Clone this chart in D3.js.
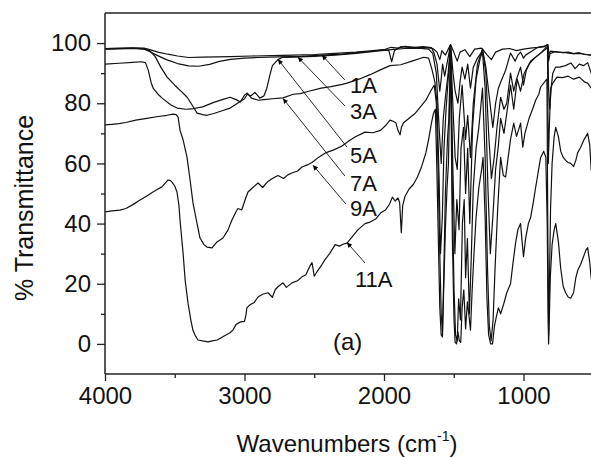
<!DOCTYPE html>
<html><head><meta charset="utf-8">
<script src="https://cdn.jsdelivr.net/npm/d3@7"></script>
<style>body{margin:0;background:#fff}svg{display:block}</style>
</head><body><svg id="c" width="591" height="457"></svg>
<script>
// ---------- data ----------
const seriesNames = ["1A","3A","5A","7A","9A","11A"];
const s1A = [[4000,98.2],[3900,98.3],[3800,98.4],[3720,98.3],[3680,97.8],[3620,97.0],[3550,96.3],[3480,95.7],[3400,95.2],[3300,95.3],[3200,95.4],[3100,95.5],[2950,95.7],[2800,95.8],[2650,96.0],[2500,96.2],[2350,96.6],[2200,97.0],[2100,97.4],[2000,97.8],[1950,98.6],[1900,98.3],[1850,98.9],[1780,98.6],[1700,98.5],[1650,98.2],[1620,97.0],[1600,94.5],[1585,97.5],[1560,96.0],[1523,99.5],[1500,97.0],[1475,94.0],[1455,97.0],[1420,97.8],[1385,95.5],[1350,98.0],[1300,98.3],[1260,96.0],[1230,94.5],[1200,97.0],[1150,98.0],[1100,98.2],[1050,97.5],[1000,98.0],[950,98.3],[900,98.6],[850,99.0],[825,99.5],[818,96.5],[805,97.3],[760,97.0],[700,96.8],[650,96.5],[600,96.6],[550,96.2],[500,96.0]];
const s3A = [[4000,98.0],[3900,98.1],[3800,98.2],[3720,98.0],[3680,97.2],[3630,96.0],[3560,94.5],[3480,93.2],[3400,92.4],[3330,92.3],[3250,92.9],[3180,93.9],[3100,94.6],[3000,95.0],[2900,95.2],[2750,95.4],[2600,95.6],[2450,96.0],[2300,96.3],[2200,96.8],[2100,97.2],[2000,97.8],[1965,97.5],[1945,93.8],[1925,97.5],[1880,98.8],[1800,98.5],[1720,98.8],[1660,98.5],[1640,96.5],[1620,93],[1600,84],[1590,88],[1580,93],[1565,89],[1545,94],[1523,99.5],[1505,90],[1490,84],[1470,80],[1455,87],[1440,92],[1420,88],[1400,93],[1380,85],[1360,92],[1330,95],[1300,97],[1294,98],[1270,92],[1250,84],[1220,72],[1200,80],[1180,85],[1164,87],[1128,91],[1093,96.7],[1060,94],[1040,96],[1021,97],[1000,95],[985,96],[950,97],[900,98.5],[850,98.8],[828,99.5],[820,94],[810,96.5],[770,97.2],[720,96.8],[680,97],[640,96.5],[600,96.8],[560,96.2],[520,96],[500,95.5]];
const s5A = [[4000,98.0],[3900,98.2],[3800,98.3],[3720,98.1],[3680,97.5],[3640,95.5],[3600,92.0],[3555,88.7],[3500,86.0],[3450,83.8],[3411,82.0],[3370,79.0],[3340,76.7],[3300,76.2],[3268,76.0],[3220,76.6],[3160,77.5],[3103,78.4],[3050,80.0],[3000,81.5],[2980,83.0],[2955,82.4],[2925,83.6],[2890,81.7],[2860,82.5],[2840,85],[2820,89],[2800,92.5],[2780,93.5],[2760,94.5],[2730,95.2],[2650,95.3],[2500,95.6],[2350,96.0],[2200,96.6],[2050,97.3],[1950,97.8],[1850,98.2],[1750,98.3],[1680,98.0],[1650,96.5],[1625,90],[1605,72],[1590,60],[1575,75],[1560,82],[1540,90],[1523,99],[1505,78],[1490,62],[1475,58],[1460,75],[1440,86],[1415,68],[1400,76],[1380,62],[1360,80],[1330,93],[1294,98],[1270,90],[1250,70],[1230,55],[1210,62],[1190,72],[1164,82],[1140,78],[1120,80],[1093,90],[1070,84],[1050,88],[1021,92],[1000,86],[980,91],[950,94],[910,95.5],[870,97],[840,98.5],[826,99],[820,85],[812,78],[800,86],[790,90],[770,92],[740,92],[700,92.5],[660,93.4],[630,91.5],[600,93],[570,92.5],[540,93.5],[515,90],[500,89]];
const s7A = [[4000,93.0],[3900,93.3],[3800,93.6],[3740,93.8],[3710,93.5],[3690,91.0],[3670,87.0],[3655,85.0],[3620,83.0],[3590,81.7],[3530,79.5],[3483,78.4],[3420,78.0],[3380,78.1],[3300,78.8],[3220,80.3],[3160,81.2],[3103,82.0],[3060,81.2],[3030,80.4],[3000,82.7],[2980,83.4],[2950,81.7],[2900,81.0],[2860,81.2],[2800,81.5],[2724,81.8],[2650,83.0],[2600,83.2],[2540,84.0],[2450,85.0],[2380,85.5],[2300,86.3],[2265,86.7],[2180,88.0],[2100,89.5],[2030,91.0],[1957,92.5],[1880,92.8],[1800,94.0],[1715,95.3],[1680,95],[1655,91],[1635,87],[1620,80],[1605,55],[1595,30],[1582,42],[1570,65],[1555,78],[1540,88],[1523,99],[1508,62],[1492,30],[1478,48],[1462,38],[1448,65],[1430,72],[1415,50],[1400,65],[1385,40],[1365,72],[1340,88],[1310,95],[1294,97],[1275,85],[1255,52],[1238,30],[1220,42],[1200,58],[1180,66],[1164,75],[1140,70],[1110,80],[1093,86],[1070,78],[1045,88],[1021,84],[995,90],[960,93],[920,95],[880,96.5],[840,98],[828,98.5],[822,60],[815,72],[805,85],[790,86.7],[760,88.7],[720,88.5],[680,89],[640,88],[600,88.7],[560,87],[540,86.7],[515,85],[500,84]];
const s9A = [[4000,72.8],[3950,73.0],[3900,73.2],[3850,73.6],[3780,74.4],[3700,75.0],[3620,75.6],[3556,76.0],[3512,76.4],[3490,76.2],[3476,75.4],[3462,71.0],[3440,67.8],[3412,62.0],[3390,54.5],[3369,46.8],[3340,40.0],[3319,35.2],[3290,33.0],[3269,32.2],[3233,31.9],[3197,33.9],[3154,35.2],[3118,37.9],[3090,41.2],[3060,44.0],[3047,45.0],[3020,44.5],[2995,48.0],[2975,50.5],[2940,52.0],[2903,53.5],[2870,52.0],[2832,54.0],[2800,55.0],[2760,56.0],[2720,55.0],[2690,56.2],[2660,56.8],[2620,57.5],[2588,58.8],[2550,59.5],[2516,60.3],[2470,62.0],[2420,63.5],[2360,64.5],[2301,65.8],[2250,67.5],[2208,68.8],[2136,70.4],[2079,70.2],[2025,71.0],[1990,72.5],[1957,74.4],[1935,74.0],[1915,73.5],[1900,71.0],[1885,69.5],[1875,72.0],[1860,73.5],[1820,75.0],[1780,76.5],[1740,78.7],[1700,81.0],[1660,84.5],[1640,86.0],[1625,80],[1612,58],[1600,30],[1590,10],[1581,4],[1572,22],[1560,50],[1545,68],[1535,75],[1523,98],[1510,50],[1498,18],[1487,3],[1475,1],[1465,15],[1452,8],[1438,40],[1425,48],[1415,22],[1402,35],[1388,10],[1375,28],[1360,52],[1340,65],[1320,72],[1294,85],[1275,62],[1258,25],[1245,6],[1232,1],[1218,8],[1204,25],[1185,45],[1164,62],[1145,56],[1128,55.5],[1110,62],[1093,68],[1070,73.4],[1050,69],[1030,72],[1021,73.4],[1005,65.4],[990,70],[960,75],[935,78],[913,81],[890,83],[877,85.4],[850,87],[832,88],[826,40],[820,3],[814,20],[806,45],[795,60],[780,69],[769,72],[750,69],[733,64],[715,62],[698,61],[680,60.3],[662,60],[641,59],[625,61],[612,63.5],[590,65.4],[565,68],[540,70],[525,66],[515,58],[500,55]];
const s11A = [[4000,43.9],[3950,44.2],[3893,44.5],[3850,45.0],[3800,46.3],[3749,47.8],[3700,49.2],[3656,50.5],[3620,51.5],[3592,52.2],[3565,53.6],[3548,54.5],[3530,54.3],[3520,53.8],[3500,52.5],[3484,50.5],[3470,46],[3462,41],[3450,35],[3440,30],[3425,21],[3405,13.6],[3385,8],[3370,4.6],[3350,2.5],[3333,1.3],[3300,1.0],[3262,0.7],[3230,1.0],[3197,1.3],[3170,2.0],[3140,2.8],[3104,3.7],[3083,4.6],[3060,6.5],[3030,7.3],[3000,7.5],[2990,9.5],[2983,12],[2960,13],[2930,13.8],[2903,15.6],[2870,16.5],[2832,17],[2800,15.5],[2780,18],[2760,19],[2724,20.3],[2700,18.8],[2660,20.3],[2620,21],[2588,22.3],[2560,23],[2530,26],[2516,27],[2500,22.5],[2480,24],[2450,26],[2423,28],[2390,30],[2350,33],[2320,32.5],[2290,33.2],[2265,33.5],[2230,35.5],[2186,38],[2136,40],[2100,40.5],[2060,41.5],[2025,43.5],[1990,44.5],[1960,46.5],[1940,48.8],[1920,47.5],[1900,48.5],[1888,47],[1876,37],[1866,46],[1850,49],[1820,51.5],[1790,53],[1760,55.5],[1730,59],[1700,63.5],[1680,68],[1660,73.4],[1645,76.7],[1632,78],[1622,60],[1612,38],[1600,12],[1590,3],[1581,2.3],[1572,18],[1560,38],[1548,52],[1538,60],[1523,97],[1510,35],[1498,8],[1490,0.5],[1480,0],[1470,4],[1460,1],[1450,0.5],[1440,12],[1428,18],[1415,5],[1402,14],[1390,9],[1380,4.6],[1368,18],[1355,30],[1340,42],[1320,52],[1300,58],[1290,62],[1275,42],[1262,15],[1250,3],[1236,0],[1222,0],[1208,6],[1195,9],[1180,12],[1164,10],[1140,13.6],[1120,17],[1093,20],[1075,27],[1057,33.5],[1040,38],[1021,40],[1010,34],[1000,29],[985,35],[965,40],[949,42],[930,47],[913,52],[895,57],[877,62],[855,64],[840,62],[830,40],[824,10],[820,0],[815,8],[808,22],[795,33],[780,38],[769,40],[750,34],[733,25],[715,19],[698,17],[680,15.6],[662,15.2],[641,17],[625,22],[610,24.6],[590,26.5],[570,29],[554,31],[540,32],[525,27],[515,22],[500,19]];
const seriesData = [s1A, s3A, s5A, s7A, s9A, s11A];

const xTicks = [4000, 3000, 2000, 1000];
const xMinorTicks = [3500, 2500, 1500];
const yTicks = [0, 20, 40, 60, 80, 100];
const yMinorTicks = [10, 30, 50, 70, 90];

// annotations (data units): label anchor, leader start, leader end
const labelAt    = [[2244,83.4],[2244,74.8],[2244,60.1],[2244,50.8],[2244,42.6],[2208,18.9]];
const leaderFrom = [[2280,87.7],[2280,79.1],[2265,65.4],[2280,55.8],[2273,46.5],[2136,26.9]];
const leaderTo   = [[2445,96.0],[2617,95.3],[2760,94.6],[2724,81.6],[2509,59.4],[2265,33.7]];
const panelLabel = "(a)";
const panelAt = [2366, -2];
const xTitle = "Wavenumbers (cm";
const xTitleSup = "-1";
const yTitle = "% Transmittance";

// ---------- chart ----------
const font = "'Liberation Sans', Arial, sans-serif";
const svg = d3.select("#c");
const x = d3.scaleLinear().domain([4000, 500]).range([105, 593.25]);
const y = d3.scaleLinear().domain([-10, 110]).range([374, 13]);

const defs = svg.append("defs");
defs.append("clipPath").attr("id","clip")
  .append("rect").attr("x",105).attr("y",13).attr("width",486).attr("height",361);
defs.append("marker").attr("id","arr").attr("viewBox","0 0 10 10")
  .attr("refX",10).attr("refY",5).attr("markerWidth",6).attr("markerHeight",5)
  .attr("markerUnits","userSpaceOnUse").attr("orient","auto")
  .append("path").attr("d","M0,0L10,5L0,10z").attr("fill","#000");

const line = d3.line().x(d => x(d[0])).y(d => y(d[1]));
svg.append("g").attr("clip-path","url(#clip)")
  .selectAll("path").data(seriesData).join("path")
  .attr("d", line).attr("fill","none").attr("stroke","#111")
  .attr("stroke-width",1.2).attr("stroke-linejoin","round");

// axes
const axCol = "#222";
const gx = svg.append("g").attr("transform","translate(0,374)")
  .call(d3.axisBottom(x).tickValues(xTicks).tickSize(7).tickPadding(6).tickFormat(d3.format("d")));
const gxm = svg.append("g").attr("transform","translate(0,374)")
  .call(d3.axisBottom(x).tickValues(xMinorTicks).tickSize(4).tickFormat(""));
const gy = svg.append("g").attr("transform","translate(105,0)")
  .call(d3.axisLeft(y).tickValues(yTicks).tickSize(8).tickPadding(6).tickFormat(d3.format("d")));
const gym = svg.append("g").attr("transform","translate(105,0)")
  .call(d3.axisLeft(y).tickValues(yMinorTicks).tickSize(4).tickFormat(""));
[gx,gxm,gy,gym].forEach(g => {
  g.select(".domain").attr("stroke",axCol).attr("stroke-width",1.5);
  g.selectAll(".tick line").attr("stroke",axCol).attr("stroke-width",1.3);
  g.selectAll("text").attr("font-family",font).attr("font-size",24).attr("fill","#111");
});
gxm.select(".domain").remove();
gym.select(".domain").remove();
gx.select(".domain").attr("d","M105,0H591");
gy.select(".domain").attr("d","M0,374V13");
svg.append("line").attr("x1",105).attr("x2",591).attr("y1",13).attr("y2",13)
  .attr("stroke",axCol).attr("stroke-width",1.5);

// leaders
svg.append("g").selectAll("line").data(leaderFrom).join("line")
  .attr("x1",(d)=>x(d[0])).attr("y1",(d)=>y(d[1]))
  .attr("x2",(d,i)=>x(leaderTo[i][0])).attr("y2",(d,i)=>y(leaderTo[i][1]))
  .attr("stroke","#111").attr("stroke-width",0.9).attr("marker-end","url(#arr)");

// labels
svg.append("g").selectAll("text").data(seriesNames).join("text")
  .attr("x",(d,i)=>x(labelAt[i][0])).attr("y",(d,i)=>y(labelAt[i][1]))
  .attr("font-family",font).attr("font-size",22).attr("fill","#111").text(d=>d);
svg.append("text").attr("x",x(panelAt[0])).attr("y",y(panelAt[1]))
  .attr("font-family",font).attr("font-size",24).attr("fill","#111").text(panelLabel);

// titles
const xt = svg.append("text").attr("x",347).attr("y",452).attr("text-anchor","middle")
  .attr("font-family",font).attr("font-size",24).attr("fill","#111");
xt.append("tspan").text(xTitle);
xt.append("tspan").attr("font-size",14).attr("dy",-11).text(xTitleSup);
xt.append("tspan").attr("dy",11).text(")");
svg.append("text").attr("transform","translate(33,208) rotate(-90)").attr("text-anchor","middle")
  .attr("font-family",font).attr("font-size",25).attr("fill","#111").text(yTitle);
</script></body></html>
